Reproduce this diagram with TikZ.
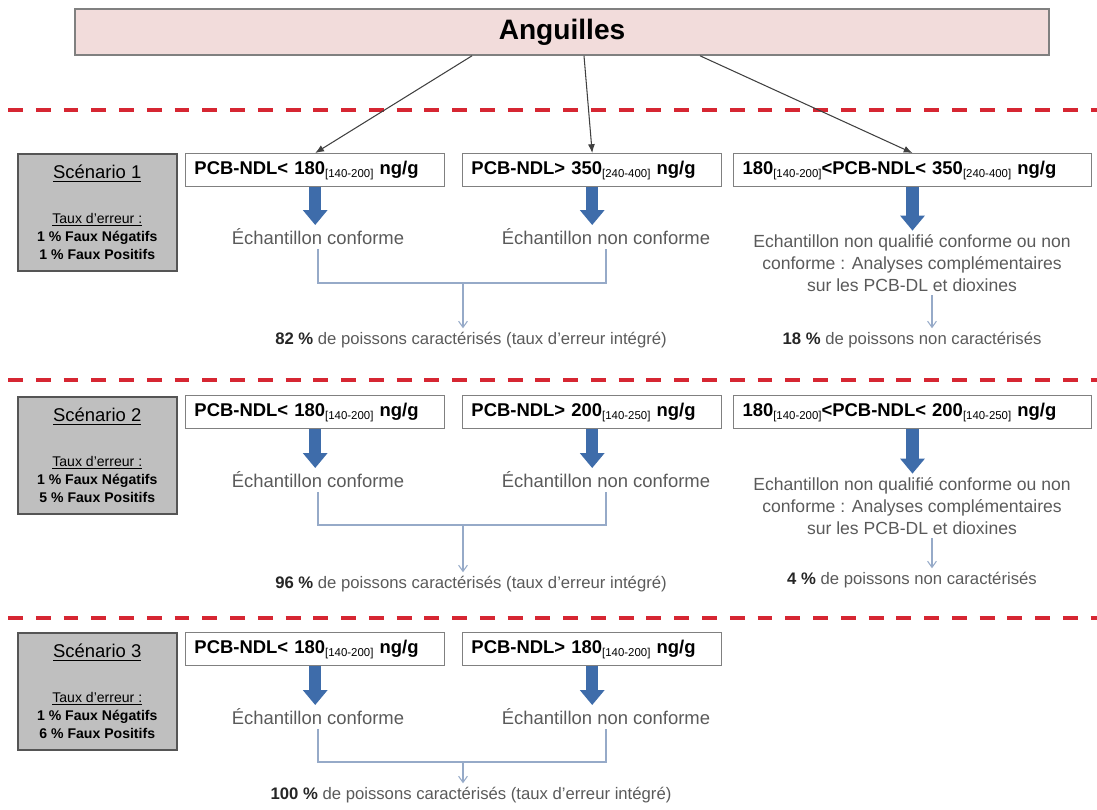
\documentclass[tikz,border=0pt]{standalone}
\usepackage{fontspec}
\setmainfont{Liberation Sans}
\usepackage{xcolor}
\usetikzlibrary{arrows.meta}

\definecolor{titlepink}{RGB}{242,220,219}
\definecolor{boxgray}{RGB}{128,128,128}
\definecolor{scenfill}{RGB}{191,191,191}
\definecolor{scenedge}{RGB}{85,85,85}
\definecolor{sepred}{RGB}{214,38,50}
\definecolor{arrowblue}{RGB}{62,108,170}
\definecolor{linkblue}{RGB}{150,170,200}
\definecolor{txtgray}{RGB}{90,90,90}

\newcommand{\plage}[1]{\raisebox{-0.35ex}{\fontsize{6.5}{7}\selectfont\mdseries[#1]}}

\begin{document}
\begin{tikzpicture}[x=0.02cm,y=-0.02cm,
	titlebox/.style={draw=boxgray,fill=titlepink,line width=0.9pt,minimum width=19.48cm,minimum height=0.92cm,font=\fontsize{16}{19}\selectfont\bfseries},
	cond/.style={draw=boxgray,fill=white,line width=0.8pt,anchor=north west,inner xsep=5pt,minimum height=0.66cm,align=left,font=\fontsize{10.5}{12}\selectfont\bfseries},
	scen/.style={draw=scenedge,fill=scenfill,line width=0.9pt,anchor=north west,minimum width=3.18cm,minimum height=2.34cm,align=center,font=\fontsize{8}{10.2}\selectfont},
	outcome/.style={text=txtgray,inner sep=2pt,font=\fontsize{10.5}{12.5}\selectfont},
	share/.style={text=txtgray,inner sep=2pt,font=\fontsize{9.5}{11}\selectfont},
	redsep/.style={draw=sepred,line width=2.3pt,dash pattern=on 8.5pt off 7.3pt},
	fork/.style={draw=black!75,line width=0.6pt,-{Latex[length=5pt,width=4pt]}},
	blueshaft/.style={draw=arrowblue,line width=7pt,-{Triangle[length=8.5pt,width=13.5pt]}},
	link/.style={draw=linkblue,line width=0.6pt},
	linkarrow/.style={link,-{Straight Barb[length=3.5pt,width=5pt]}}]
	\useasboundingbox (0,0) rectangle (1097,809);

	\foreach \y in {110,380,618}
		\draw[redsep] (8,\y) -- (1097,\y);

	\node[titlebox] (ang) at (562,32) {Anguilles};

	% scenario 1
	\node[scen] (s1) at (17,153) {{\fontsize{10.5}{12}\selectfont\underline{Scénario 1}}\\[15pt]\underline{Taux d'erreur :}\\\textbf{1 \% Faux Négatifs}\\\textbf{1 \% Faux Positifs}};
	\node[cond,text width=137.4pt] (c11) at (185,153) {PCB-NDL< 180\plage{140-200} ng/g};
	\node[cond,text width=137.4pt] (c12) at (462,153) {PCB-NDL> 350\plage{240-400} ng/g};
	\node[cond,text width=193.5pt] (c13) at (733,153) {180\plage{140-200}<PCB-NDL< 350\plage{240-400} ng/g};
	\node[outcome] (e11) at (318,237) {Échantillon conforme};
	\node[outcome] (e12) at (606,237) {Échantillon non conforme};
	\node[outcome,align=center,font=\fontsize{10}{12.5}\selectfont] (q1) at (912,263) {Echantillon non qualifié conforme ou non\\conforme : Analyses complémentaires\\sur les PCB-DL et dioxines};
	\coordinate (m1) at (463,283);
	\node[share] (p1) at (471,340) {{\color{black!85}\bfseries 82 \%} de poissons caractérisés (taux d'erreur intégré)};
	\node[share] (n1) at (912,340) {{\color{black!85}\bfseries 18 \%} de poissons non caractérisés};

	\draw[fork] ([xshift=-1.8cm]ang.south) -- (c11.north);
	\draw[fork] ([xshift=0.44cm]ang.south) -- (c12.north);
	\draw[fork] ([xshift=2.76cm]ang.south) -- (c13.north);
	\draw[blueshaft] (c11.south) -- (c11.south |- e11.north);
	\draw[blueshaft] (c12.south) -- (c12.south |- e12.north);
	\draw[blueshaft] (c13.south) -- (c13.south |- q1.north);
	\draw[link] (e11.south) -- (e11.south |- m1) -- (e12.south |- m1) -- (e12.south);
	\draw[linkarrow] (m1) -- (m1 |- p1.north);
	\draw[linkarrow] ([xshift=0.4cm]q1.south) -- ([xshift=0.4cm]q1.south |- n1.north);

	% scenario 2
	\node[scen] (s2) at (17,396) {{\fontsize{10.5}{12}\selectfont\underline{Scénario 2}}\\[15pt]\underline{Taux d'erreur :}\\\textbf{1 \% Faux Négatifs}\\\textbf{5 \% Faux Positifs}};
	\node[cond,text width=137.4pt] (c21) at (185,395) {PCB-NDL< 180\plage{140-200} ng/g};
	\node[cond,text width=137.4pt] (c22) at (462,395) {PCB-NDL> 200\plage{140-250} ng/g};
	\node[cond,text width=193.5pt] (c23) at (733,395) {180\plage{140-200}<PCB-NDL< 200\plage{140-250} ng/g};
	\node[outcome] (e21) at (318,480) {Échantillon conforme};
	\node[outcome] (e22) at (606,480) {Échantillon non conforme};
	\node[outcome,align=center,font=\fontsize{10}{12.5}\selectfont] (q2) at (912,506) {Echantillon non qualifié conforme ou non\\conforme : Analyses complémentaires\\sur les PCB-DL et dioxines};
	\coordinate (m2) at (463,525);
	\node[share] (p2) at (471,584) {{\color{black!85}\bfseries 96 \%} de poissons caractérisés (taux d'erreur intégré)};
	\node[share] (n2) at (912,580) {{\color{black!85}\bfseries 4 \%} de poissons non caractérisés};

	\draw[blueshaft] (c21.south) -- (c21.south |- e21.north);
	\draw[blueshaft] (c22.south) -- (c22.south |- e22.north);
	\draw[blueshaft] (c23.south) -- (c23.south |- q2.north);
	\draw[link] (e21.south) -- (e21.south |- m2) -- (e22.south |- m2) -- (e22.south);
	\draw[linkarrow] (m2) -- (m2 |- p2.north);
	\draw[linkarrow] ([xshift=0.4cm]q2.south) -- ([xshift=0.4cm]q2.south |- n2.north);

	% scenario 3
	\node[scen] (s3) at (17,632) {{\fontsize{10.5}{12}\selectfont\underline{Scénario 3}}\\[15pt]\underline{Taux d'erreur :}\\\textbf{1 \% Faux Négatifs}\\\textbf{6 \% Faux Positifs}};
	\node[cond,text width=137.4pt] (c31) at (185,632) {PCB-NDL< 180\plage{140-200} ng/g};
	\node[cond,text width=137.4pt] (c32) at (462,632) {PCB-NDL> 180\plage{140-200} ng/g};
	\node[outcome] (e31) at (318,717) {Échantillon conforme};
	\node[outcome] (e32) at (606,717) {Échantillon non conforme};
	\coordinate (m3) at (463,762);
	\node[share] (p3) at (471,795) {{\color{black!85}\bfseries 100 \%} de poissons caractérisés (taux d'erreur intégré)};

	\draw[blueshaft] (c31.south) -- (c31.south |- e31.north);
	\draw[blueshaft] (c32.south) -- (c32.south |- e32.north);
	\draw[link] (e31.south) -- (e31.south |- m3) -- (e32.south |- m3) -- (e32.south);
	\draw[linkarrow] (m3) -- (m3 |- p3.north);
\end{tikzpicture}
\end{document}
